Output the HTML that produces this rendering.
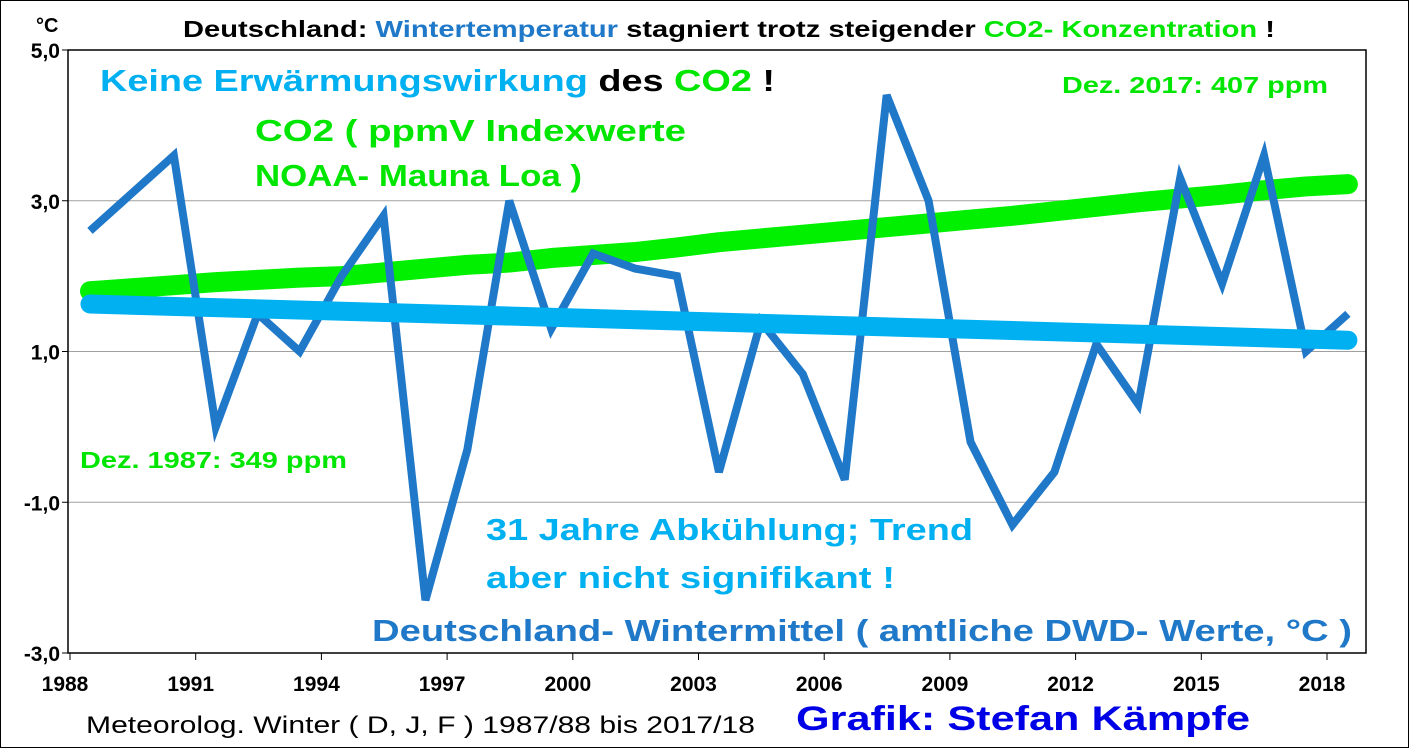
<!DOCTYPE html>
<html><head><meta charset="utf-8"><style>
body{margin:0;background:#fff;font-family:"Liberation Sans",Arial,sans-serif;}
svg text{font-family:"Liberation Sans",Arial,sans-serif;font-weight:bold;}
</style></head><body>
<svg id="c" width="1409" height="748" viewBox="0 0 1409 748" xmlns="http://www.w3.org/2000/svg">
<rect x="0.5" y="0.5" width="1408" height="747" fill="#fff" stroke="#000"/>
<g id="grid"></g>
<g id="axes"></g>
<g id="marks"></g>
<g id="labels">
<text x="183" y="37" font-size="23" textLength="1092" lengthAdjust="spacingAndGlyphs"><tspan fill="#000">Deutschland: </tspan><tspan fill="#1f78c8">Wintertemperatur</tspan><tspan fill="#000"> stagniert trotz steigender </tspan><tspan fill="#00e600">CO2- Konzentration</tspan><tspan fill="#000"> !</tspan></text>
<text x="36" y="32" font-size="20" fill="#000">°C</text>
<text x="100" y="91" font-size="31" textLength="675" lengthAdjust="spacingAndGlyphs"><tspan fill="#00b0f0">Keine Erwärmungswirkung</tspan><tspan fill="#000"> des </tspan><tspan fill="#00e600">CO2</tspan><tspan fill="#000"> !</tspan></text>
<text x="1062" y="93" font-size="23" fill="#00e600" textLength="266" lengthAdjust="spacingAndGlyphs">Dez. 2017: 407 ppm</text>
<text x="255" y="141" font-size="31" fill="#00e600" textLength="431" lengthAdjust="spacingAndGlyphs">CO2 ( ppmV Indexwerte</text>
<text x="255" y="186" font-size="31" fill="#00e600" textLength="327" lengthAdjust="spacingAndGlyphs">NOAA- Mauna Loa )</text>
<text x="80" y="468" font-size="23" fill="#00e600" textLength="267" lengthAdjust="spacingAndGlyphs">Dez. 1987: 349 ppm</text>
<text x="486" y="540" font-size="31" fill="#00b0f0" textLength="487" lengthAdjust="spacingAndGlyphs">31 Jahre Abkühlung; Trend</text>
<text x="486" y="588" font-size="31" fill="#00b0f0" textLength="409" lengthAdjust="spacingAndGlyphs">aber nicht signifikant !</text>
<text x="372" y="641" font-size="31" fill="#1f78c8" textLength="980" lengthAdjust="spacingAndGlyphs">Deutschland- Wintermittel ( amtliche DWD- Werte, °C )</text>
<text x="86" y="733" font-size="24" fill="#000" style="font-weight:normal" textLength="669" lengthAdjust="spacingAndGlyphs">Meteorolog. Winter ( D, J, F ) 1987/88 bis 2017/18</text>
<text x="796" y="730" font-size="34" fill="#0000e6" textLength="454" lengthAdjust="spacingAndGlyphs">Grafik: Stefan Kämpfe</text>
</g>
</svg>
<script>
const years=[1988,1989,1990,1991,1992,1993,1994,1995,1996,1997,1998,1999,2000,2001,2002,2003,2004,2005,2006,2007,2008,2009,2010,2011,2012,2013,2014,2015,2016,2017,2018];
const temps=[2.6,3.1,3.6,0.0,1.5,1.0,2.0,2.8,-2.3,-0.3,3.0,1.3,2.3,2.1,2.0,-0.6,1.4,0.7,-0.7,4.4,3.0,-0.2,-1.3,-0.6,1.1,0.3,3.3,1.9,3.6,1.0,1.5];
const co2Index=[1.8,1.84,1.88,1.92,1.95,1.98,2.0,2.05,2.1,2.15,2.18,2.24,2.28,2.32,2.38,2.45,2.5,2.55,2.6,2.65,2.7,2.75,2.8,2.86,2.92,2.98,3.03,3.08,3.14,3.19,3.22];
const trendEnds=[1.63,1.15];
const yTicks=[5,3,1,-1,-3];
const yTickLabels=["5,0","3,0","1,0","-1,0","-3,0"];
const xTicks=[1988,1991,1994,1997,2000,2003,2006,2009,2012,2015,2018];
const NS="http://www.w3.org/2000/svg";
const X0=68,X1=1366,Y0=50,Y1=653;
function xs(v){return 90+(v-1988)*41.93;}
function xa(v){return 70+(v-1988)*41.9;}
function ys(v){return Y0+(5-v)*(Y1-Y0)/8;}
function mk(tag,attrs,parent){const e=document.createElementNS(NS,tag);for(const k in attrs)e.setAttribute(k,attrs[k]);document.getElementById(parent).appendChild(e);return e;}
yTicks.forEach((t,i)=>{
 if(i>0&&i<yTicks.length-1){const g=mk('line',{x1:X0,x2:X1,y1:ys(t),y2:ys(t),stroke:'#a0a0a0','stroke-width':1},'grid');
 
 }
 const tk=mk('line',{x1:X0-6,x2:X0,y1:ys(t),y2:ys(t),stroke:'#000'},'axes');
 
 
 const tx=mk('text',{x:X0-8,y:ys(t)+8,'text-anchor':'end','font-size':21},'axes');
 tx.textContent=yTickLabels[i];
 
 
});
const fr=mk('rect',{x:X0,y:Y0,width:X1-X0,height:Y1-Y0,fill:'none',stroke:'#000','stroke-width':1.5},'axes');


xTicks.forEach(t=>{
 const tk=mk('line',{x1:xa(t),x2:xa(t),y1:Y1,y2:Y1+7,stroke:'#000'},'axes');
 
 
 const tx=mk('text',{x:xa(t)-5,y:Y1+38,'text-anchor':'middle','font-size':21},'axes');
 tx.textContent=t;
 
 
});
const co2=mk('polyline',{points:years.map((y,i)=>xs(y)+','+ys(co2Index[i])).join(' '),fill:'none',stroke:'#00f000','stroke-width':20,'stroke-linecap':'round','stroke-linejoin':'round'},'marks');


const tl=mk('polyline',{points:years.map((y,i)=>xs(y)+','+ys(temps[i])).join(' '),fill:'none',stroke:'#1f78c8','stroke-width':8,'stroke-linejoin':'miter'},'marks');


const tr=mk('line',{x1:xs(years[0]),y1:ys(trendEnds[0]),x2:xs(years[years.length-1]),y2:ys(trendEnds[1]),stroke:'#00b0f0','stroke-width':19,'stroke-linecap':'round'},'marks');


</script>
</body></html>
